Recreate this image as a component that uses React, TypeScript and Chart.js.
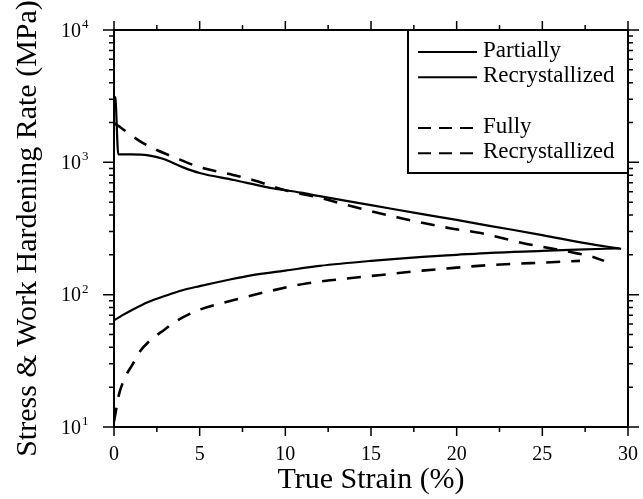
import { useEffect, useRef } from 'react';
import { Chart, registerables } from 'chart.js';

Chart.register(...registerables);

const SERIF = '"Liberation Serif", "Times New Roman", Times, serif';

// Partially recrystallized: flow stress (lower solid)
const partialStressStrain = [0, 0.5, 1, 2, 3, 4, 5, 6.5, 8, 10, 12, 15, 18, 20, 22, 25, 27, 29.5];
const partialStress = [64, 70, 76, 88, 98, 108, 116, 128, 140, 152, 165, 180, 193, 200, 207, 214, 219, 224];

// Partially recrystallized: work hardening rate (upper solid)
const partialRateStrain = [0, 0.08, 0.25, 1, 2, 2.9, 4, 5, 7, 8.9, 10.9, 12, 15, 18, 20, 22, 25, 27.5, 29.6];
const partialRate = [3150, 3050, 1150, 1150, 1130, 1060, 920, 830, 735, 650, 590, 555, 475, 406, 367, 330, 282, 245, 222];

// Fully recrystallized: flow stress (lower dashed)
const fullStressStrain = [0, 0.1, 0.25, 0.6, 1.1, 1.5, 2.1, 3, 3.45, 5, 7, 8.9, 11.3, 13, 15.6, 18, 20, 21.8, 24.3, 27.2];
const fullStress = [11, 13, 16.8, 23, 30, 37, 45, 55, 61, 77, 91, 105, 122, 130, 141, 152, 160, 167, 173, 180];

// Fully recrystallized: work hardening rate (upper dashed)
const fullRateStrain = [0, 0.35, 1, 1.9, 3.45, 5, 7, 8.1, 10, 12, 13.6, 16.7, 19.6, 21.4, 23.9, 26.7, 28, 28.6];
const fullRate = [1980, 1850, 1600, 1350, 1100, 920, 800, 735, 615, 540, 475, 380, 318, 292, 245, 209, 192, 180];

const xTickValues = [0, 5, 10, 15, 20, 25, 30];
const yDecades = [1, 2, 3, 4];

const legendGroups = [
  { lines: ['Partially', 'Recrystallized'], dash: [] as number[] },
  { lines: ['Fully', 'Recrystallized'], dash: [13, 8] },
];

const toPoints = (xs: number[], ys: number[]) => xs.map((x, i) => ({ x, y: ys[i] }));

const DASH = [14, 11];

export default function App() {
  const ref = useRef<HTMLCanvasElement>(null);

  useEffect(() => {
    const canvas = ref.current;
    if (!canvas) return;

    const framePlugin = {
      id: 'frameTicks',
      beforeDraw(chart: any) {
        const { ctx, width, height } = chart;
        ctx.save();
        ctx.fillStyle = '#fff';
        ctx.fillRect(0, 0, width, height);
        ctx.restore();
      },
      afterDraw(chart: any) {
        const { ctx, chartArea } = chart;
        const { left, right, top, bottom } = chartArea;
        const xs = chart.scales.x;
        const ys = chart.scales.y;
        ctx.save();
        ctx.strokeStyle = '#000';
        ctx.lineWidth = 2;
        ctx.strokeRect(left, top, right - left, bottom - top);

        ctx.lineWidth = 1.5;
        ctx.beginPath();
        for (let v = 0; v <= 30.001; v += 2.5) {
          const major = Math.abs(v % 5) < 0.001;
          const len = major ? 9 : 5;
          const px = xs.getPixelForValue(v);
          ctx.moveTo(px, bottom);
          ctx.lineTo(px, bottom + len);
          ctx.moveTo(px, top);
          ctx.lineTo(px, top - len);
        }
        for (let d = 1; d <= 4; d++) {
          for (let m = 1; m <= 9; m++) {
            if (d === 4 && m > 1) break;
            const v = m * Math.pow(10, d);
            const py = ys.getPixelForValue(v);
            const len = m === 1 ? 11 : 5;
            ctx.moveTo(left, py);
            ctx.lineTo(left - len, py);
            ctx.moveTo(right, py);
            ctx.lineTo(right + len, py);
          }
        }
        ctx.stroke();

        // y tick labels with superscript exponents
        ctx.fillStyle = '#000';
        for (const d of yDecades) {
          const py = ys.getPixelForValue(Math.pow(10, d));
          const xr = left - 33;
          ctx.font = `20px ${SERIF}`;
          ctx.textAlign = 'right';
          ctx.textBaseline = 'alphabetic';
          ctx.fillText('10', xr, py + 6.8);
          ctx.font = `13px ${SERIF}`;
          ctx.textAlign = 'left';
          ctx.fillText(String(d), xr + 1, py - 2);
        }

        // legend
        const boxW = 220;
        const boxH = 143;
        const bx = right - boxW;
        const by = top;
        ctx.lineWidth = 2;
        ctx.strokeRect(bx, by, boxW, boxH);
        let row = 0;
        legendGroups.forEach((g, gi) => {
          if (gi > 0) row += 1;
          g.lines.forEach((t) => {
            const ry = by + 22 + row * 25.3;
            ctx.setLineDash(g.dash);
            ctx.lineWidth = 2;
            ctx.beginPath();
            ctx.moveTo(bx + 10, ry);
            ctx.lineTo(bx + 69, ry);
            ctx.stroke();
            ctx.setLineDash([]);
            ctx.font = `23px ${SERIF}`;
            ctx.textAlign = 'left';
            ctx.textBaseline = 'alphabetic';
            ctx.fillText(t, bx + 75, ry + 5);
            row += 1;
          });
        });
        ctx.restore();
      },
    };

    const chart = new Chart(canvas, {
      type: 'line',
      data: {
        datasets: [
          {
            label: 'Partially Recrystallized (stress)',
            data: toPoints(partialStressStrain, partialStress),
            borderColor: '#000',
            borderWidth: 2.2,
            pointRadius: 0,
            cubicInterpolationMode: 'monotone',
          },
          {
            label: 'Partially Recrystallized (hardening)',
            data: toPoints(partialRateStrain, partialRate),
            borderColor: '#000',
            borderWidth: 2.2,
            pointRadius: 0,
            cubicInterpolationMode: 'monotone',
          },
          {
            label: 'Fully Recrystallized (stress)',
            data: toPoints(fullStressStrain, fullStress),
            borderColor: '#000',
            borderWidth: 2.6,
            borderDash: DASH,
            pointRadius: 0,
            cubicInterpolationMode: 'monotone',
          },
          {
            label: 'Fully Recrystallized (hardening)',
            data: toPoints(fullRateStrain, fullRate),
            borderColor: '#000',
            borderWidth: 2.6,
            borderDash: DASH,
            pointRadius: 0,
            cubicInterpolationMode: 'monotone',
          },
        ],
      },
      options: {
        animation: false,
        responsive: false,
        devicePixelRatio: 1,
        layout: { padding: { top: 30, right: 15, left: 0, bottom: 0 } },
        plugins: {
          legend: { display: false },
          tooltip: { enabled: false },
        },
        scales: {
          x: {
            type: 'linear',
            min: 0,
            max: 30,
            afterFit: (s: any) => {
              s.height = 72;
              s.paddingLeft = 0;
              s.paddingRight = 0;
            },
            afterBuildTicks: (s: any) => {
              s.ticks = xTickValues.map((v) => ({ value: v }));
            },
            ticks: {
              color: '#000',
              font: { family: SERIF, size: 20 },
              padding: 16,
              maxRotation: 0,
              autoSkip: false,
            },
            grid: { display: false, drawTicks: false },
            border: { display: false },
            title: {
              display: true,
              text: 'True Strain (%)',
              color: '#000',
              font: { family: SERIF, size: 30, lineHeight: 1.2 },
              padding: { top: 0, bottom: 1 },
            },
          },
          y: {
            type: 'logarithmic',
            min: 10,
            max: 10000,
            afterFit: (s: any) => {
              s.width = 114;
              s.paddingTop = 0;
              s.paddingBottom = 0;
            },
            ticks: { display: false },
            grid: { display: false, drawTicks: false },
            border: { display: false },
            title: {
              display: true,
              text: 'Stress & Work Hardening Rate (MPa)',
              color: '#000',
              font: { family: SERIF, size: 30, lineHeight: 1.2 },
              padding: { top: 10, bottom: 0 },
            },
          },
        },
      },
      plugins: [framePlugin],
    } as any);

    return () => chart.destroy();
  }, []);

  return (
    <div style={{ position: 'absolute', left: 0, top: 0, width: 643, height: 499 }}>
      <canvas ref={ref} width={643} height={499} style={{ display: 'block' }} />
    </div>
  );
}
